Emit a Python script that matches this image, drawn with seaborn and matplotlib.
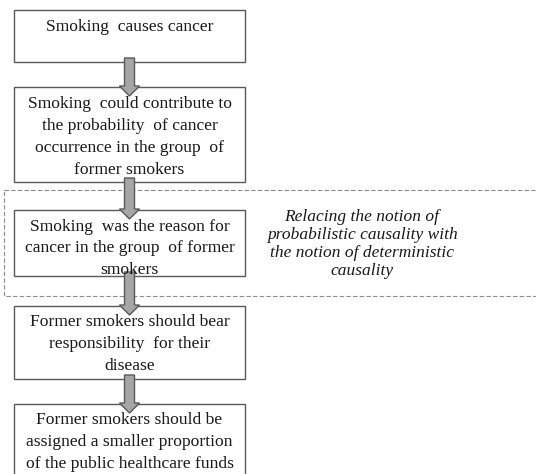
import matplotlib.pyplot as plt
from matplotlib.patches import Rectangle, Polygon
import seaborn as sns

sns.set_theme(style="white")
plt.rcParams['font.family'] = ['Liberation Serif', 'DejaVu Serif']

# flowchart content
box_texts = [
    "Smoking  causes cancer",
    "Smoking  could contribute to\nthe probability  of cancer\noccurrence in the group  of\nformer smokers",
    "Smoking  was the reason for\ncancer in the group  of former\nsmokers",
    "Former smokers should bear\nresponsibility  for their\ndisease",
    "Former smokers should be\nassigned a smaller proportion\nof the public healthcare funds",
]
note_text = ("Relacing the notion of\nprobabilistic causality with\n"
             "the notion of deterministic\ncausality")

# layout in pixels (top, bottom) for each box
box_top = [10, 87, 210, 306, 404]
box_bottom = [62, 182, 276, 379, 490]
box_left, box_right = 14, 245
edge = "#595959"

fig = plt.figure(figsize=(5.36, 4.74), dpi=100)
ax = fig.add_axes([0, 0, 1, 1])
ax.set_xlim(0, 536)
ax.set_ylim(474, 0)
ax.axis("off")

cx = (box_left + box_right) / 2

# dashed frame around the reinterpretation step
ax.add_patch(Rectangle((4, 190), 540, 106, fill=False, ec="#8c8c8c",
                       lw=0.8, ls=(0, (4, 2)), zorder=1))

for i, (txt, t, b) in enumerate(zip(box_texts, box_top, box_bottom)):
    ax.add_patch(Rectangle((box_left, t), box_right - box_left, b - t,
                           fc="white", ec=edge, lw=1.0, zorder=2))
    ax.text(cx, t + 8.5, txt, ha="center", va="top", fontsize=12.6,
            linespacing=1.5, color="#1a1a1a", zorder=4)

# arrows between boxes
sw, hw, hl = 5, 10, 10
for b, t_next in zip(box_bottom[:-1], box_top[1:]):
    y0 = b - 4
    y1 = t_next + 9
    pts = [(cx - sw, y0), (cx + sw, y0), (cx + sw, y1 - hl), (cx + hw, y1 - hl),
           (cx, y1), (cx - hw, y1 - hl), (cx - sw, y1 - hl)]
    ax.add_patch(Polygon(pts, closed=True, fc="#a6a6a6", ec=edge, lw=1.0, zorder=3))

ax.text(362, 244, note_text, ha="center", va="center", fontsize=12.5,
        style="italic", linespacing=1.17, color="#1a1a1a")

fig.savefig("out.png", dpi=100)
